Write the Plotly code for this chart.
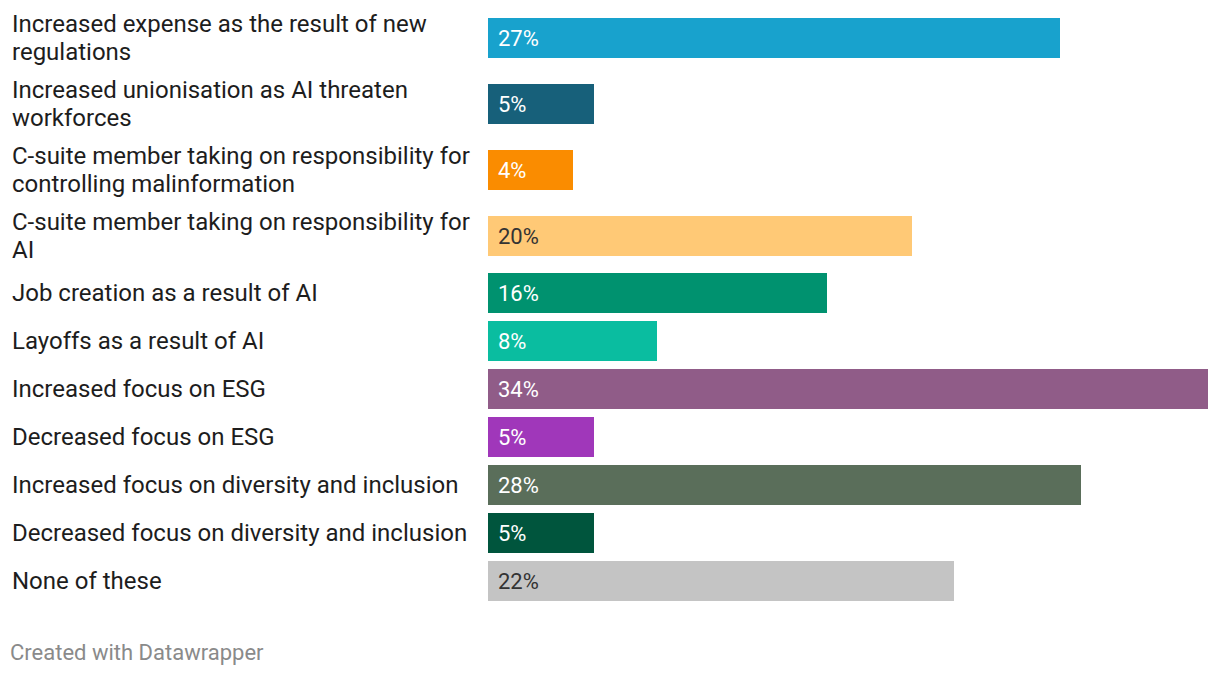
import plotly.graph_objects as go

categories = [
    "Increased expense as the result of new<br>regulations",
    "Increased unionisation as AI threaten<br>workforces",
    "C-suite member taking on responsibility for<br>controlling malinformation",
    "C-suite member taking on responsibility for<br>AI",
    "Job creation as a result of AI",
    "Layoffs as a result of AI",
    "Increased focus on ESG",
    "Decreased focus on ESG",
    "Increased focus on diversity and inclusion",
    "Decreased focus on diversity and inclusion",
    "None of these",
]
values = [27, 5, 4, 20, 16, 8, 34, 5, 28, 5, 22]
value_labels = [f"{v}%" for v in values]
colors = ["#18a2cd", "#17607a", "#fa8c00", "#ffc976", "#00926f", "#0abda0",
          "#905c88", "#a037ba", "#5a6e5a", "#00553d", "#c4c4c4"]
label_colors = ["#ffffff", "#ffffff", "#ffffff", "#333333", "#ffffff", "#ffffff",
                "#ffffff", "#ffffff", "#ffffff", "#ffffff", "#333333"]
footer = "Created with Datawrapper"

# page body has an 8px margin; figure sized to sit inside the window
W, H = 1204, 662
LEFT, RIGHT = 480, 4
BAR_H = 40
LINE_H = 28

centers = []
pos = 30
for i, c in enumerate(categories):
    if i > 0:
        prev_lines = categories[i - 1].count("<br>") + 1
        cur_lines = c.count("<br>") + 1
        pos += 24 + 9 * (prev_lines - 1) + 24 + 9 * (cur_lines - 1)
    centers.append(pos)

fig = go.Figure(go.Bar(
    x=values, y=centers, orientation="h", width=BAR_H,
    marker=dict(color=colors, line=dict(width=0)),
    hoverinfo="skip",
))

annotations = []
for c, yc, lab, lc in zip(categories, centers, value_labels, label_colors):
    lines = c.split("<br>")
    n = len(lines)
    for k, ln in enumerate(lines):
        annotations.append(dict(
            text=ln, xref="paper", x=0, xshift=-(LEFT - 2), xanchor="left",
            yref="y", y=yc, yshift=-(k - (n - 1) / 2) * LINE_H,
            yanchor="middle", showarrow=False, align="left",
            font=dict(family="Roboto", size=24, color="#1d1d1d"),
        ))
    annotations.append(dict(
        text=lab, xref="x", x=0, xshift=8, xanchor="left",
        yref="y", y=yc, yanchor="middle", showarrow=False,
        font=dict(family="Roboto", size=22, color=lc),
    ))
annotations.append(dict(
    text=footer, xref="paper", x=0, xshift=-LEFT,
    xanchor="left", yref="y", y=644, yanchor="middle", showarrow=False,
    font=dict(family="Roboto", size=22, color="#8a8a8a"),
))

fig.update_layout(
    width=W, height=H,
    margin=dict(l=LEFT, r=RIGHT, t=0, b=0, pad=0),
    paper_bgcolor="white", plot_bgcolor="white",
    xaxis=dict(range=[0, max(values)], visible=False, fixedrange=True),
    yaxis=dict(range=[H, 0], visible=False, fixedrange=True),
    showlegend=False, annotations=annotations,
    bargap=0,
)
fig.write_html("out.html", config={"displayModeBar": False})
